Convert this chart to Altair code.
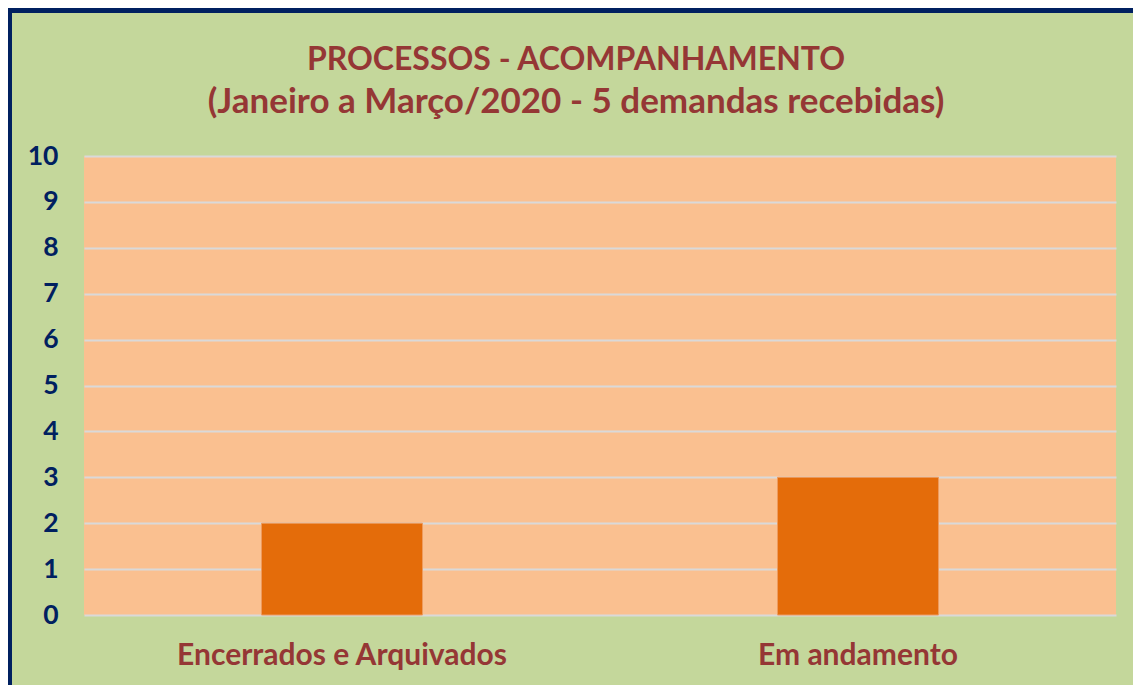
import altair as alt
import pandas as pd

categories = ["Encerrados e Arquivados", "Em andamento"]
values = [2, 3]
y_ticks = [0, 1, 2, 3, 4, 5, 6, 7, 8, 9, 10]
title_text = "PROCESSOS - ACOMPANHAMENTO"
subtitle_text = "(Janeiro a Março/2020 - 5 demandas recebidas)"

df = pd.DataFrame({"categoria": categories, "valor": values})
border_df = pd.DataFrame({"k": [0]})

FONT = "Lato"
GREEN = "#C4D79B"
PEACH = "#FAC090"
ORANGE = "#E46C0A"
DARKRED = "#953735"
NAVY = "#002060"

bars = alt.Chart(df).mark_bar(
    color=ORANGE, stroke="#EE9B5E", strokeWidth=1,
    width=alt.RelativeBandSize(0.312)
).encode(
    x=alt.X("categoria:N", sort=categories, title=None,
            scale=alt.Scale(paddingInner=0, paddingOuter=0),
            axis=alt.Axis(labelAngle=0, labelFont=FONT, labelFontSize=30,
                          labelFontWeight="bold", labelColor=DARKRED,
                          labelLimit=800,
                          labelPadding=25, ticks=False, domain=False, grid=False)),
    y=alt.Y("valor:Q", title=None,
            scale=alt.Scale(domain=[0, 10], nice=False),
            axis=alt.Axis(values=y_ticks, labelFont=FONT, labelFontSize=26.5,
                          labelFontWeight="bold", labelColor=NAVY,
                          labelPadding=26, ticks=False, domain=False,
                          grid=True, gridColor="#D9D9D9", gridWidth=2)),
)

left_border = alt.Chart(border_df).mark_rule(color=NAVY, strokeWidth=5).encode(
    x=alt.value(-74.5), y=alt.value(-148), y2=alt.value(540)
)
top_border = alt.Chart(border_df).mark_rule(color=NAVY, strokeWidth=5).encode(
    y=alt.value(-145.5), x=alt.value(-77), x2=alt.value(1049)
)

chart = alt.layer(bars, left_border, top_border).properties(
    width=1032, height=459,
    autosize=alt.AutoSizeParams(type="none"),
    padding={"left": 76, "top": 148, "right": 17, "bottom": 70},
    background=GREEN,
    title=alt.TitleParams(
        text=title_text, font=FONT, fontSize=32, fontWeight="bold",
        color=DARKRED, anchor="middle", frame="group", dx=-24, dy=151,
        offset=36,
        subtitle=subtitle_text, subtitleFont=FONT, subtitleFontSize=35,
        subtitleFontWeight="bold", subtitleColor=DARKRED, subtitlePadding=8,
    ),
).configure_view(fill=PEACH, stroke=None)

chart.save("out.html", embed_options={"renderer": "svg", "actions": False})
